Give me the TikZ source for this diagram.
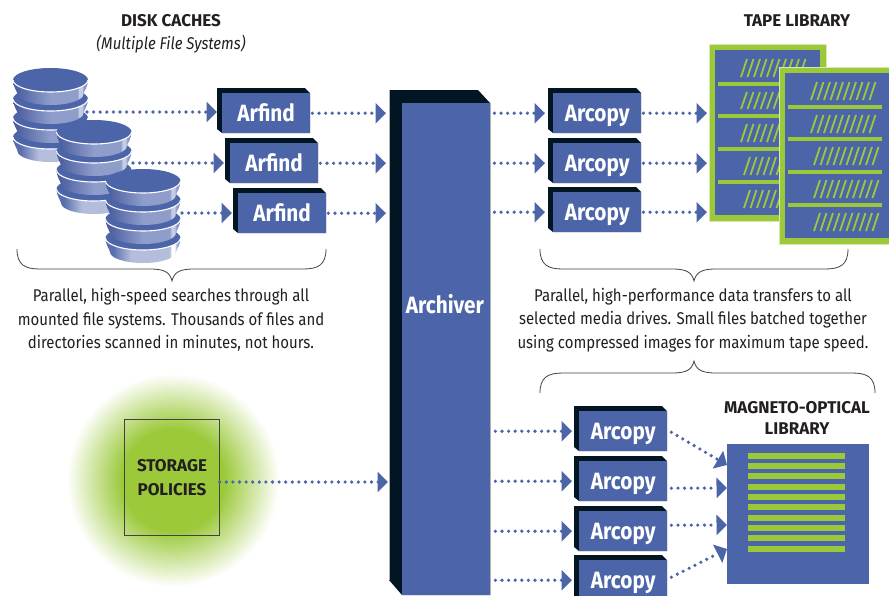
\documentclass[tikz,border=0pt]{standalone}
\usepackage{fontspec}
\setmainfont{Fira Sans}[FakeStretch=0.88]
\newfontfamily\capfont{Fira Sans}[FakeStretch=1.0]
\usetikzlibrary{arrows.meta}
\definecolor{bluefill}{HTML}{4C64A8}
\definecolor{darkside}{HTML}{021522}
\definecolor{greenfill}{HTML}{9BC93A}
\definecolor{inktext}{HTML}{231F20}
\definecolor{bowlA}{HTML}{46599C}
\definecolor{bowlB}{HTML}{8F9DCB}
\definecolor{bowlC}{HTML}{C5CDE4}
\definecolor{lightA}{HTML}{5A6EAF}
\definecolor{lightB}{HTML}{B4BEDC}
\pgfdeclarehorizontalshading{bowlshade}{100bp}{color(0bp)=(bowlA);color(25bp)=(bowlA);color(50bp)=(bowlB);color(68bp)=(bowlB);color(69bp)=(bowlC);color(71bp)=(bowlC);color(72bp)=(bowlB);color(85bp)=(bowlA);color(100bp)=(bowlA)}
\pgfdeclarehorizontalshading{lightshade}{100bp}{color(0bp)=(lightA);color(30bp)=(lightA);color(42bp)=(lightB);color(68bp)=(lightB);color(69bp)=(white);color(71bp)=(white);color(72bp)=(lightB);color(75bp)=(lightA);color(100bp)=(lightA)}
\pgfdeclareradialshading{glowshade}{\pgfpoint{0bp}{0bp}}{color(0bp)=(greenfill);color(12bp)=(greenfill);color(25bp)=(white);color(50bp)=(white)}
\tikzset{
  x=1pt,y=-1pt,
  flow/.style={draw=bluefill,line width=3.6pt,line cap=round,dash pattern=on 0pt off 6.6pt,
    -{Triangle[length=10.5pt,width=20pt,fill=bluefill]}},
  boxface/.style={fill=bluefill,inner sep=0pt,font=\bfseries\fontsize{23.6}{24}\selectfont,text=white,anchor=north west,text height=16pt,text depth=0pt},
  sidefill/.style={fill=darkside},
  caption/.style={font=\capfont\bfseries\fontsize{17}{18}\selectfont,text=inktext,inner sep=0pt},
  bodytext/.style={font=\fontsize{17}{23.7}\selectfont,text=inktext,inner sep=0pt,align=center},
  bracestyle/.style={draw=inktext!85,line width=0.8pt},
  shelf/.style={fill=greenfill},
  slash/.style={draw=greenfill,line width=1.8pt}
}
% name, x0, y0, width, height, text, depth
\newcommand{\threeDbox}[7]{%
  \fill[sidefill] (#2-#7,#3-#7) -- (#2+#4-5,#3-#7) -- (#2+#4,#3) -- (#2+#4,#3+#5) -- (#2,#3+#5) -- (#2-#7,#3+#5-#7+1) -- cycle;
  \node[boxface,minimum width=#4 pt,minimum height=#5 pt] (#1) at (#2,#3) {#6};
}
% cx, cy, shading
\newcommand{\platter}[3]{%
  \shade[shading=#3] (#1-37.5,#2) .. controls (#1-37,#2+8) and (#1-34,#2+10) .. (#1-33,#2+14) arc[start angle=180,end angle=0,x radius=33,y radius=11] .. controls (#1+34,#2+10) and (#1+37,#2+8) .. (#1+37.5,#2) -- cycle;
  \fill[bluefill] (#1,#2) ellipse[x radius=37.5,y radius=12];
  \draw[white,line width=1.1pt] (#1-37.5,#2) arc[start angle=180,end angle=0,x radius=37.5,y radius=12];
}
\newcommand{\diskstack}[2]{%
  \platter{#1}{#2+57}{lightshade}
  \platter{#1}{#2+38}{bowlshade}
  \platter{#1}{#2+19}{bowlshade}
  \platter{#1}{#2}{bowlshade}
}
% x of lower left, y bottom, y top
\newcommand{\slashrow}[3]{%
  \foreach \i in {0,...,9} {\draw[slash] (#1+6.5*\i,#2) -- (#1+6.5*\i+6,#3);}
}
% x0 x1 xtip ybase ybar ytip
\newcommand{\hbrace}[6]{%
  \draw[bracestyle] (#1,#4) .. controls (#1,{#5+(#4-#5)*0.2}) and (#1+8,#5) .. (#1+23,#5) -- (#3-22,#5)
    .. controls (#3-7,#5) and (#3-2,{#5+(#6-#5)*0.3}) .. (#3,#6)
    .. controls (#3+2,{#5+(#6-#5)*0.3}) and (#3+7,#5) .. (#3+22,#5) -- (#2-23,#5)
    .. controls (#2-8,#5) and (#2,{#5+(#4-#5)*0.2}) .. (#2,#4);
}
\begin{document}
\begin{tikzpicture}
\useasboundingbox (0,0) rectangle (889,595);
\fill[white] (0,0) rectangle (889,595);

% captions
\node[caption] (diskcap) at (171,21) {DISK CACHES};
\node[bodytext,font=\itshape\fontsize{17}{18}\selectfont] (disksub) at (171,44) {(Multiple File Systems)};
\node[caption] (tapecap) at (797,21) {TAPE LIBRARY};
\node[caption,align=center,font=\capfont\bfseries\fontsize{17}{21}\selectfont] (mocap) at (797,418) {MAGNETO-OPTICAL\\LIBRARY};

% disks
\diskstack{50.5}{80}
\diskstack{94}{132}
\diskstack{143}{181}
\coordinate (diskA) at (87,112);
\coordinate (diskB) at (133,163);
\coordinate (diskC) at (182,213);

% Arfind
\threeDbox{arfindA}{222}{93}{88}{40}{Arfind}{5}
\threeDbox{arfindB}{230}{143}{88}{40}{Arfind}{5}
\threeDbox{arfindC}{238}{193}{88}{40}{Arfind}{5}

% Archiver
\fill[darkside] (389,90) -- (478,90) -- (490,103) -- (490,595) -- (402,595) -- (389,580) -- cycle;
\draw[gray!60,line width=0.5pt] (389,580) -- (389,90);
\draw[gray!60,line width=0.5pt] (490,103) -- (490,595);
\node[boxface,minimum width=88pt,minimum height=492pt] (archiver) at (402,103) {};
\node[text=white,font=\bfseries\fontsize{23.6}{24}\selectfont,inner sep=0pt] (archlabel) at (445,304) {Archiver};
\coordinate (archIn) at (389,300);

% Arcopy upper
\threeDbox{copyA}{553}{93}{88}{40}{Arcopy}{5}
\threeDbox{copyB}{553}{143}{88}{40}{Arcopy}{5}
\threeDbox{copyC}{553}{192}{88}{40}{Arcopy}{5}

% Arcopy lower
\threeDbox{copyD}{579}{411}{88}{40}{Arcopy}{5}
\threeDbox{copyE}{579}{461}{88}{40}{Arcopy}{5}
\threeDbox{copyF}{579}{511}{88}{40}{Arcopy}{5}
\threeDbox{copyG}{579}{560}{88}{40}{Arcopy}{5}

% Tape library back
\node[fill=greenfill,draw=greenfill!40,line width=0.4pt,minimum width=117pt,minimum height=177pt,anchor=north west,inner sep=0pt] (tapeBack) at (709,44) {};
\fill[bluefill] (715,50) rectangle (820,215);
\foreach \y in {84,116,149,182} {\fill[shelf] (718,\y-2.2) rectangle (820,\y+2.2);}
\slashrow{741}{77}{59}
\slashrow{741}{109}{92}
\slashrow{741}{142}{124}
\slashrow{744}{175}{157}
\slashrow{744}{208}{190}

% Tape library front
\node[fill=greenfill,draw=greenfill!40,line width=0.4pt,minimum width=115pt,minimum height=177pt,anchor=north west,inner sep=0pt] (tapeFront) at (779,67) {};
\fill[bluefill] (785,73) rectangle (889,238);
\foreach \y in {107,139,172,205} {\fill[shelf] (788,\y-2.2) rectangle (882,\y+2.2);}
\slashrow{811}{100}{82}
\slashrow{811}{133}{115}
\slashrow{814}{165}{147}
\slashrow{814}{198}{180}
\slashrow{814}{231}{213}

% MO library
\node[fill=bluefill,minimum width=142pt,minimum height=140pt,anchor=north west,inner sep=0pt] (mo) at (727,444) {};
\foreach \y in {456,466,476,487,497,507,518,528,538,549} {\fill[shelf] (748,\y-2.6) rectangle (845,\y+2.6);}

% Storage policies
\shade[shading=glowshade] (173,480) circle (106.5);
\node[draw=inktext!85,line width=0.7pt,minimum width=95pt,minimum height=116pt,anchor=north west,inner sep=0pt] (policy) at (124,419) {};
\node[caption,align=center,font=\capfont\bfseries\fontsize{17}{24}\selectfont] (policylabel) at (172,477.5) {STORAGE\\POLICIES};
\coordinate (policyLevel) at (0,482);

% connectors
\draw[flow] (diskA) -- ([xshift=-5pt]arfindA.west |- diskA);
\draw[flow] (diskB) -- ([xshift=-6pt]arfindB.west |- diskB);
\draw[flow] (diskC) -- ([xshift=-6pt]arfindC.west |- diskC);
\draw[flow] ([xshift=2pt]arfindA.east) -- ([xshift=-3pt]archIn |- arfindA.east);
\draw[flow] ([xshift=2pt]arfindB.east) -- ([xshift=-3pt]archIn |- arfindB.east);
\draw[flow] ([xshift=2pt]arfindC.east) -- ([xshift=-3pt]archIn |- arfindC.east);
\draw[flow] ([xshift=4pt]archiver.east |- copyA.west) -- ([xshift=-8pt]copyA.west);
\draw[flow] ([xshift=4pt]archiver.east |- copyB.west) -- ([xshift=-8pt]copyB.west);
\draw[flow] ([xshift=4pt]archiver.east |- copyC.west) -- ([xshift=-8pt]copyC.west);
\draw[flow] ([xshift=2pt]copyA.east) -- ([xshift=-2pt]tapeBack.west |- copyA.east);
\draw[flow] ([xshift=2pt]copyB.east) -- ([xshift=-2pt]tapeBack.west |- copyB.east);
\draw[flow] ([xshift=2pt]copyC.east) -- ([xshift=-2pt]tapeBack.west |- copyC.east);
\draw[flow] ([xshift=5pt]archiver.east |- copyD.west) -- ([xshift=-7pt]copyD.west);
\draw[flow] ([xshift=5pt]archiver.east |- copyE.west) -- ([xshift=-7pt]copyE.west);
\draw[flow] ([xshift=5pt]archiver.east |- copyF.west) -- ([xshift=-7pt]copyF.west);
\draw[flow] ([xshift=5pt]archiver.east |- copyG.west) -- ([xshift=-7pt]copyG.west);
\draw[flow] ([xshift=4pt,yshift=-1pt]copyD.east) -- ([yshift=-21pt]mo.north west);
\draw[flow] ([xshift=4pt,yshift=-7pt]copyE.east) -- ([yshift=-44pt]mo.north west);
\draw[flow] ([xshift=4pt,yshift=6pt]copyF.east) -- ([yshift=-81pt]mo.north west);
\draw[flow] ([xshift=4pt,yshift=3pt]copyG.east) -- ([yshift=-105pt]mo.north west);
\draw[flow] (policy.east |- policyLevel) -- ([xshift=-1pt]archIn |- policyLevel);

% braces
\hbrace{17}{326}{172}{249}{269}{281}
\hbrace{540}{848}{694}{249}{269}{281}
\hbrace{540}{875}{694}{393}{373}{361}

% paragraphs
\node[bodytext] (textL) at (171,320) {Parallel, high-speed searches through all\\mounted file systems. Thousands of files and\\directories scanned in minutes, not hours.};
\node[bodytext] (textR) at (693,320) {Parallel, high-performance data transfers to all\\selected media drives. Small files batched together\\using compressed images for maximum tape speed.};
\end{tikzpicture}
\end{document}
